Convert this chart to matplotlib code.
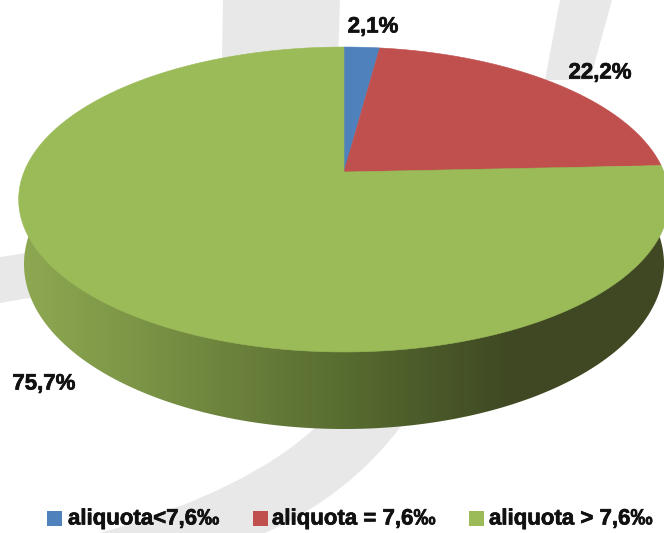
import matplotlib
matplotlib.use("Agg")
import matplotlib.pyplot as plt
import matplotlib.patheffects as pe
import numpy as np
from matplotlib.patches import Polygon, PathPatch
from matplotlib.path import Path

shares = [2.1, 22.2, 75.7]
share_labels = ["2,1%", "22,2%", "75,7%"]
legend_labels = ["aliquota<7,6‰", "aliquota = 7,6‰", "aliquota > 7,6‰"]
colors = ["#4f81bd", "#c0504d", "#9bbb59"]

plt.rcParams["font.family"] = ["Liberation Sans", "DejaVu Sans"]

W, H = 664, 533
CX = 344.0
RADIUS = 320.0
# perspective tilt, circle on the table -> screen pixels
TILT = 0.1803
YA, YB = -116.5, 172.0


def project(angle):
    """angle in radians clockwise from 12 o'clock."""
    u, v = np.sin(angle), np.cos(angle)
    d = 1 + TILT * v
    return CX + RADIUS * u / d, (YA * v + YB) / d


fig = plt.figure(figsize=(W / 100, H / 100), dpi=100)
ax = fig.add_axes([0, 0, 1, 1])
ax.set_xlim(0, W)
ax.set_ylim(H, 0)
ax.axis("off")

# watermark behind the chart
mark = "#e8e8e8"
ax.add_patch(Polygon([(223, 0), (340, 0), (338, 60), (222, 60)], fc=mark, ec="none"))
ax.add_patch(Polygon([(0, 257), (40, 251), (40, 296), (0, 303)], fc=mark, ec="none"))
ax.add_patch(Polygon([(560, 0), (545, 80), (590, 80), (612, 0)], fc=mark, ec="none"))
swoosh = Path([(318, 425), (250, 490), (100, 533), (265, 533), (350, 495), (402, 425), (318, 425)],
              [Path.MOVETO, Path.CURVE3, Path.CURVE3, Path.LINETO,
               Path.CURVE3, Path.CURVE3, Path.CLOSEPOLY])
ax.add_patch(PathPatch(swoosh, fc=mark, ec="none"))

# side wall of the disc, lower rim is a second ellipse
t = np.linspace(0, 2 * np.pi, 721)
rim_x = CX + 320 * np.cos(t)
rim_y = 264 + 165 * np.sin(t)
wall = Polygon(np.column_stack([rim_x, rim_y]), fc="none", ec="none")
ax.add_patch(wall)
stops_x = [20, 120, 250, 360, 510, 664]
stops_rgb = np.array([[0x8e, 0xa8, 0x52], [0x7f, 0x98, 0x48], [0x68, 0x7e, 0x3a],
                      [0x55, 0x69, 0x2f], [0x3f, 0x48, 0x23], [0x3f, 0x48, 0x23]]) / 255
xs = np.arange(W + 1)
grad = np.stack([np.interp(xs, stops_x, stops_rgb[:, i]) for i in range(3)], axis=-1)[None, :, :]
im = ax.imshow(grad, extent=[0, W, 440, 150], aspect="auto", zorder=2)
im.set_clip_path(wall)
ax.set_xlim(0, W)
ax.set_ylim(H, 0)

# top surface wedges
start = 0.0
for share, color in zip(shares, colors):
    a = np.linspace(start, start + share / 100 * 2 * np.pi, 400)
    px, py = project(a)
    apex = (CX, YB)
    ax.add_patch(Polygon(np.vstack([apex, np.column_stack([px, py])]),
                         fc=color, ec=color, lw=0.4, zorder=3))
    start += share / 100 * 2 * np.pi

heavy = [pe.withStroke(linewidth=0.5, foreground="#111111")]

# value labels
label_pos = [(373, 27), (600, 73), (44, 384)]
for (lx, ly), text in zip(label_pos, share_labels):
    ax.text(lx, ly, text, ha="center", va="center", fontsize=16,
            fontweight="bold", color="#111111", zorder=4, path_effects=heavy)

# legend
legend_x = [(47, 68), (253, 272), (469, 489)]
for (sx, tx), color, text in zip(legend_x, colors, legend_labels):
    ax.add_patch(Polygon([(sx, 511), (sx + 15, 511), (sx + 15, 526), (sx, 526)],
                         fc=color, ec="none", zorder=4))
    ax.text(tx, 519, text, ha="left", va="center", fontsize=16,
            fontweight="bold", color="#111111", zorder=4, path_effects=heavy)

fig.savefig("out.png", dpi=100)
